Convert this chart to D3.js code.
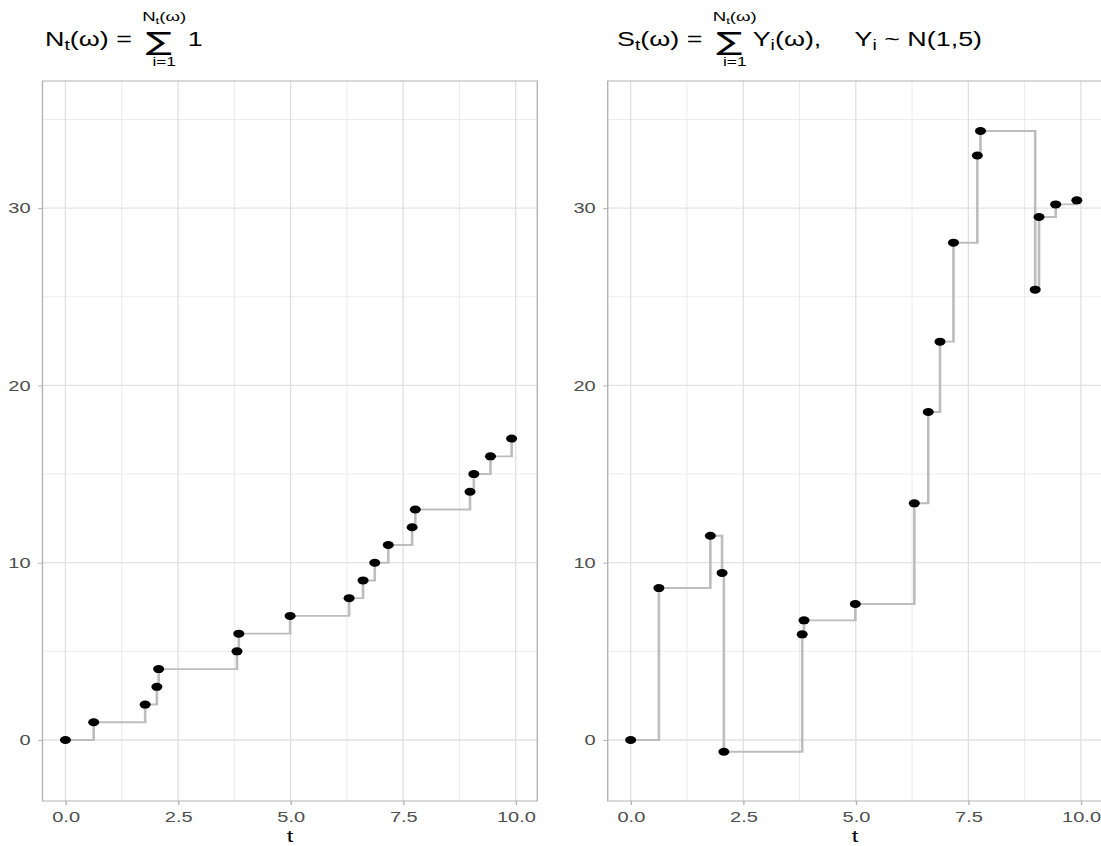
<!DOCTYPE html>
<html>
<head>
<meta charset="utf-8">
<script src="https://cdn.jsdelivr.net/npm/d3@7"></script>
<style>
  body { margin: 0; background: #fff; }
  svg { font-family: "Liberation Sans", Arial, Helvetica, sans-serif; }
</style>
</head>
<body>
<svg id="chart" width="1101" height="846"></svg>
<script>
// event times (shared by both panels)
const times = [0, 0.627, 1.77, 2.03, 2.07, 3.81, 3.85, 4.99, 6.30, 6.61, 6.87, 7.17, 7.70, 7.77, 8.985, 9.07, 9.44, 9.91]
// N_t : counting process
const counts = [0, 1, 2, 3, 4, 5, 6, 7, 8, 9, 10, 11, 12, 13, 14, 15, 16, 17]
// S_t : compound process
const sums = [0, 8.57, 11.52, 9.42, -0.66, 5.96, 6.75, 7.67, 13.35, 18.5, 22.47, 28.05, 32.97, 34.35, 25.4, 29.5, 30.21, 30.44]

const xTicks = [0, 2.5, 5, 7.5, 10]
const xMinor = [1.25, 3.75, 6.25, 8.75]
const yTicks = [0, 10, 20, 30]
const yMinor = [5, 15, 25, 35]

// the whole figure is stretched horizontally
const sx = 1.38
const panelTop = 81, panelBottom = 801

const svg = d3.select("#chart")
const root = svg.append("g").attr("transform", `scale(${sx},1)`)

const y = d3.scaleLinear().domain([-3.44, 37.17]).range([panelBottom, panelTop])

const panels = [
    { left: 42.5, right: 537.3, values: counts },
    { left: 607.7, right: 1102.5, values: sums }
]

panels.forEach(p => {
    const w = (p.right - p.left) / sx
    const g = root.append("g").attr("transform", `translate(${p.left / sx},0)`)
    const x = d3.scaleLinear().domain([-0.51, 10.48]).range([0, w])
    const data = times.map((t, i) => ({ t: t, v: p.values[i] }))

    /* GRID */
    g.selectAll(".minor-x").data(xMinor).enter().append("line")
        .attr("x1", d => x(d)).attr("x2", d => x(d))
        .attr("y1", panelTop).attr("y2", panelBottom)
        .attr("stroke", "#e6e6e6").attr("stroke-width", 0.7)
    g.selectAll(".minor-y").data(yMinor).enter().append("line")
        .attr("x1", 0).attr("x2", w)
        .attr("y1", d => y(d)).attr("y2", d => y(d))
        .attr("stroke", "#ececec").attr("stroke-width", 1)
    g.selectAll(".major-x").data(xTicks).enter().append("line")
        .attr("x1", d => x(d)).attr("x2", d => x(d))
        .attr("y1", panelTop).attr("y2", panelBottom)
        .attr("stroke", "#dedede").attr("stroke-width", 0.9)
    g.selectAll(".major-y").data(yTicks).enter().append("line")
        .attr("x1", 0).attr("x2", w)
        .attr("y1", d => y(d)).attr("y2", d => y(d))
        .attr("stroke", "#e2e2e2").attr("stroke-width", 1.3)

    /* STEP LINE */
    g.append("path")
        .datum(data)
        .attr("d", d3.line().x(d => x(d.t)).y(d => y(d.v)).curve(d3.curveStepAfter))
        .attr("fill", "none")
        .attr("stroke", "#bdbdbd")
        .attr("stroke-width", 1.9)

    /* POINTS */
    g.selectAll(".pt").data(data).enter().append("circle")
        .attr("cx", d => x(d.t)).attr("cy", d => y(d.v))
        .attr("r", 4).attr("fill", "#000")

    /* BORDER */
    g.append("rect")
        .attr("x", 0).attr("y", panelTop).attr("width", w).attr("height", panelBottom - panelTop)
        .attr("fill", "none").attr("stroke", "#b3b3b3").attr("stroke-width", 1)

    /* AXES */
    const xAxis = g.append("g")
        .attr("transform", `translate(0,${panelBottom})`)
        .call(d3.axisBottom(x).tickValues(xTicks).tickFormat(d3.format(".1f")).tickSize(4).tickPadding(7))
    const yAxis = g.append("g")
        .call(d3.axisLeft(y).tickValues(yTicks).tickFormat(d3.format("d")).tickSize(3.2).tickPadding(5.5))
    ;[xAxis, yAxis].forEach(a => {
        a.select(".domain").remove()
        a.selectAll(".tick line").attr("stroke", "#b3b3b3")
        a.selectAll(".tick text")
            .attr("fill", "#4d4d4d")
            .style("font-size", "14.5px")
            .style("font-family", '"Liberation Sans", Arial, sans-serif')
    })

    g.append("text")
        .attr("x", w / 2).attr("y", 842)
        .attr("text-anchor", "middle")
        .attr("font-size", 17)
        .attr("fill", "#000")
        .text("t")
})

/* TITLES */
function mathText(parent, x, yb, parts, fs, anchor) {
    const t = parent.append("text")
        .attr("x", x).attr("y", yb)
        .attr("font-size", fs)
        .attr("text-anchor", anchor || "start")
        .attr("fill", "#000")
        .style("white-space", "pre")
    let sub = false
    parts.forEach(([s, isSub]) => {
        const ts = t.append("tspan").text(s)
        if (isSub && !sub) ts.attr("dy", fs * 0.23).attr("font-size", fs * 0.72)
        else if (!isSub && sub) ts.attr("dy", -fs * 0.23).attr("font-size", fs)
        sub = isSub
    })
    return t
}

// ink box of the summation glyph: paint it on a canvas and scan the pixels
const sigFont = '"DejaVu Sans", sans-serif'
function glyphInk(ch) {
    const size = 100, W = 300, H = 300, ox = 100, oy = 200
    const cv = document.createElement("canvas")
    cv.width = W; cv.height = H
    const cx = cv.getContext("2d")
    cx.font = `${size}px ${sigFont}`
    cx.fillStyle = "#000"
    cx.fillText(ch, ox, oy)
    const px = cx.getImageData(0, 0, W, H).data
    let x0 = W, x1 = 0, y0 = H, y1 = 0
    for (let j = 0; j < H; j++) for (let i = 0; i < W; i++) {
        if (px[(j * W + i) * 4 + 3] > 60) {
            if (i < x0) x0 = i; if (i > x1) x1 = i
            if (j < y0) y0 = j; if (j > y1) y1 = j
        }
    }
    if (x1 <= x0) return { l: 0, r: 60, t: -76, b: 24, size }
    return { l: x0 - ox, r: x1 + 1 - ox, t: y0 - oy, b: y1 + 1 - oy, size }
}
const sigInk = glyphInk("∑")

function sumTitle(px, lhs, rhs) {
    const fs = 19.5
    const g = root.append("g").attr("transform", `translate(${px / sx},0)`)
    const a = mathText(g, 0, 46, lhs, fs)
    const sigX = a.node().getComputedTextLength() + 5
    const sigWidth = 18, sigTop = 31.5, sigHeight = 23
    const kx = sigWidth / (sigInk.r - sigInk.l), ky = sigHeight / (sigInk.b - sigInk.t)
    g.append("text")
        .attr("x", 0).attr("y", 0)
        .style("font-size", sigInk.size + "px")
        .style("font-family", sigFont)
        .attr("fill", "#000")
        .attr("transform", `translate(${sigX - sigInk.l * kx},${sigTop - sigInk.t * ky}) scale(${kx},${ky})`)
        .text("∑")
    const c = sigX + sigWidth / 2 + 4
    mathText(g, c, 21, [["N", false], ["t", true], ["(ω)", false]], 13.5, "middle")
    mathText(g, c, 66, [["i=1", false]], 12.5, "middle")
    let cx = sigX + sigWidth + 6
    rhs.forEach(part => {
        const t = mathText(g, cx + part.gap, 46, part.parts, fs)
        cx += part.gap + t.node().getComputedTextLength()
    })
}

sumTitle(45,
    [["N", false], ["t", true], ["(ω) = ", false]],
    [{ gap: 6, parts: [["1", false]] }])

sumTitle(617,
    [["S", false], ["t", true], ["(ω) = ", false]],
    [{ gap: 2, parts: [["Y", false], ["i", true], ["(ω),", false]] },
     { gap: 24, parts: [["Y", false], ["i", true], [" ~ N(1,5)", false]] }])
</script>
</body>
</html>
